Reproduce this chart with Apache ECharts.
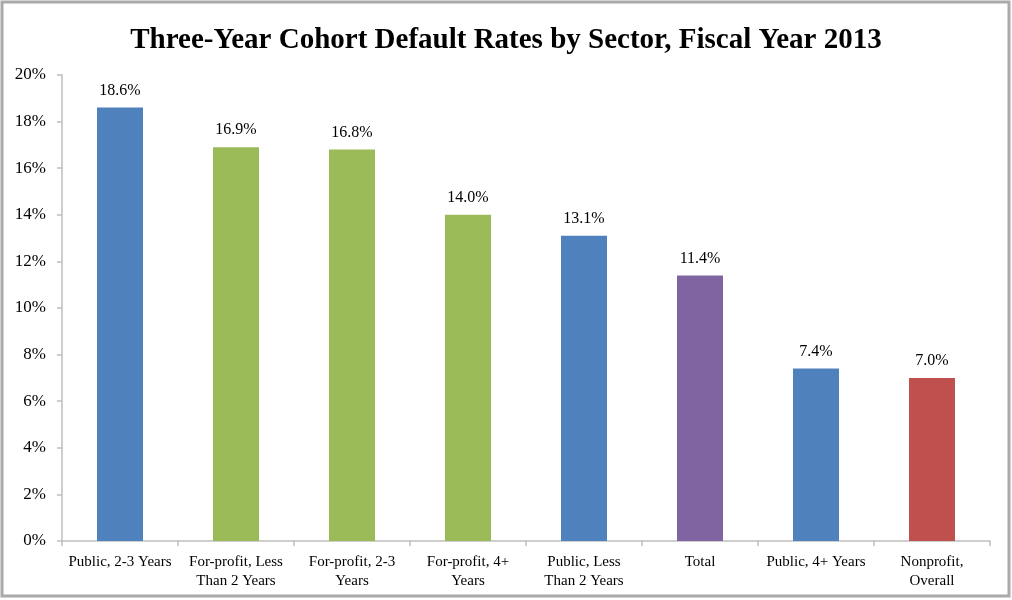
<!DOCTYPE html>
<html><head><meta charset="utf-8">
<script src="https://cdn.jsdelivr.net/npm/echarts@6/dist/echarts.min.js"></script>
<style>html,body{margin:0;padding:0;background:#fff}#c{width:1012px;height:600px}</style>
</head><body><div id="c"></div>
<script>
const categories = ["Public, 2-3 Years","For-profit, Less\nThan 2 Years","For-profit, 2-3\nYears","For-profit, 4+\nYears","Public, Less\nThan 2 Years","Total","Public, 4+ Years","Nonprofit,\nOverall"];
const values = [18.6, 16.9, 16.8, 14.0, 13.1, 11.4, 7.4, 7.0];
const barColors = ["#4F81BD","#9BBB59","#9BBB59","#9BBB59","#4F81BD","#8064A2","#4F81BD","#C0504D"];
const yTicks = [0, 2, 4, 6, 8, 10, 12, 14, 16, 18, 20];
const FONT = "Liberation Serif";
const chart = echarts.init(document.getElementById('c'));
chart.setOption({
  animation: false,
  textStyle: { fontFamily: FONT },
  title: { text: "Three-Year Cohort Default Rates by Sector, Fiscal Year 2013", left: 'center', top: 21,
    textStyle: { fontFamily: FONT, fontWeight: 'bold', fontSize: 29, color: '#000' } },
  graphic: [{ type: 'rect', shape: { x: 2, y: 2, width: 1007, height: 594 }, style: { fill: 'none', stroke: '#AAAAAA', lineWidth: 3 }, silent: true }],
  grid: { left: 62, right: 22, top: 75, bottom: 59, containLabel: false },
  xAxis: { type: 'category', data: categories,
    axisLine: { lineStyle: { color: '#BFBFBF', width: 1.5 } },
    axisTick: { show: true, length: 5, lineStyle: { color: '#BFBFBF', width: 1.5 } },
    axisLabel: { color: '#000', fontSize: 15, fontFamily: FONT, interval: 0, margin: 12, lineHeight: 19 } },
  yAxis: { type: 'value', min: yTicks[0], max: yTicks[yTicks.length-1], interval: 2,
    splitLine: { show: false },
    axisLine: { show: true, lineStyle: { color: '#BFBFBF', width: 1.5 } },
    axisTick: { show: true, length: 5, lineStyle: { color: '#BFBFBF', width: 1.5 } },
    axisLabel: { color: '#000', fontSize: 17, fontFamily: FONT, margin: 16, formatter: v => v + '%' } },
  series: [{ type: 'bar', barWidth: 46,
    data: values.map((v, i) => ({ value: v, itemStyle: { color: barColors[i] } })),
    label: { show: true, position: 'top', distance: 9, color: '#000', fontSize: 16, fontFamily: FONT, formatter: p => p.value.toFixed(1) + '%' } }]
});
</script></body></html>
